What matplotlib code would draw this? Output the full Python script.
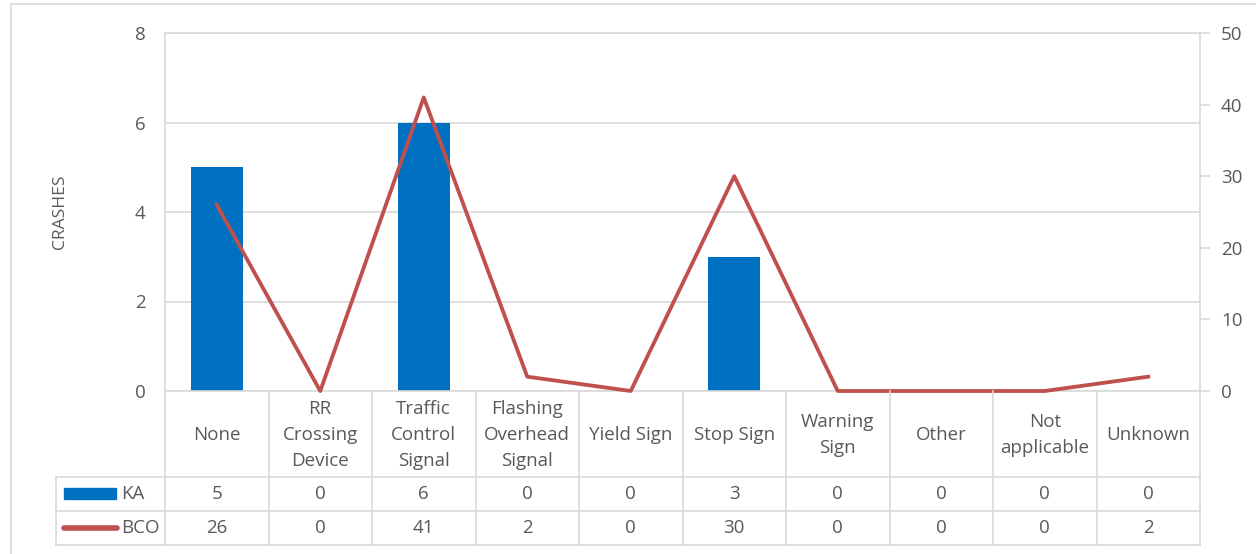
import matplotlib.pyplot as plt
from matplotlib.patches import Rectangle
import numpy as np

categories = ['None', 'RR\nCrossing\nDevice', 'Traffic\nControl\nSignal', 'Flashing\nOverhead\nSignal',
              'Yield Sign', 'Stop Sign', 'Warning\nSign', 'Other', 'Not\napplicable', 'Unknown']
ka = [5, 0, 6, 0, 0, 3, 0, 0, 0, 0]
bco = [26, 0, 41, 2, 0, 30, 0, 0, 0, 2]

W, H = 1256, 554
GRID = '#D9D9D9'
TXT = '#595959'
BLUE = '#0070C0'
RED = '#C0504D'
FS = 13.5
plt.rcParams['font.family'] = ['Open Sans', 'DejaVu Sans']

fig = plt.figure(figsize=(W / 100, H / 100), dpi=100)

# outer chart border
fig.patches.append(Rectangle((11 / W, -0.1), 2, 1 - 4 / H + 0.1, transform=fig.transFigure,
                             fill=False, edgecolor=GRID, linewidth=1.2))

x0, x1, ytop, ybot = 165, 1200, 33, 391
ax = fig.add_axes([x0 / W, 1 - ybot / H, (x1 - x0) / W, (ybot - ytop) / H])
n = len(categories)
x = np.arange(n)
ax.bar(x, ka, width=0.5, color=BLUE, zorder=2)
ax.set_xlim(-0.5, n - 0.5)
ax.set_ylim(0, 8)
ax.set_yticks([0, 2, 4, 6, 8])
ax.set_xticks([])
ax.grid(axis='y', color=GRID, linewidth=1.2, zorder=0)
ax.tick_params(axis='y', length=0, pad=14, labelsize=FS, labelcolor=TXT)
for s in ax.spines.values():
    s.set_color(GRID)
    s.set_linewidth(1.2)
ax.set_ylabel('CRASHES', fontsize=12.5, color=TXT, labelpad=48)

ax2 = ax.twinx()
ax2.plot(x, bco, color=RED, linewidth=2.75, zorder=3, clip_on=False)
ax2.set_ylim(0, 50)
ax2.set_yticks([0, 10, 20, 30, 40, 50])
ax2.tick_params(axis='y', length=7, color=GRID, width=1.2, pad=8, labelsize=FS, labelcolor=TXT)
for s in ax2.spines.values():
    s.set_visible(False)

# data table below the plot, in pixel coordinates
tx0 = 56
tb = fig.add_axes([tx0 / W, 1 - 546 / H, (x1 - tx0) / W, (546 - ybot) / H])
tb.set_xlim(tx0, x1)
tb.set_ylim(546, ybot)
tb.axis('off')
cw = (x1 - x0) / n
rows = [ybot, 477, 511, 545]
for i in range(n + 1):
    xx = x0 + i * cw
    tb.plot([xx, xx], [ybot, 545], color=GRID, linewidth=1.2, clip_on=False)
tb.plot([tx0, tx0], [477, 545], color=GRID, linewidth=1.2, clip_on=False)
for yy in rows[1:]:
    tb.plot([tx0, x1], [yy, yy], color=GRID, linewidth=1.2, clip_on=False)
for i, cat in enumerate(categories):
    cx = x0 + (i + 0.5) * cw
    tb.text(cx, (rows[0] + rows[1]) / 2 + 1, cat, ha='center', va='center', fontsize=FS,
            color=TXT, linespacing=1.58)
    tb.text(cx, (rows[1] + rows[2]) / 2, str(ka[i]), ha='center', va='center', fontsize=FS, color=TXT)
    tb.text(cx, (rows[2] + rows[3]) / 2, str(bco[i]), ha='center', va='center', fontsize=FS, color=TXT)
tb.add_patch(Rectangle((64, 488), 52, 11, color=BLUE))
tb.plot([64, 117], [528, 528], color=RED, linewidth=4, solid_capstyle='round')
tb.text(121, (rows[1] + rows[2]) / 2, 'KA', ha='left', va='center', fontsize=FS, color=TXT)
tb.text(121, (rows[2] + rows[3]) / 2, 'BCO', ha='left', va='center', fontsize=FS, color=TXT)

fig.savefig('out.png', dpi=100)
